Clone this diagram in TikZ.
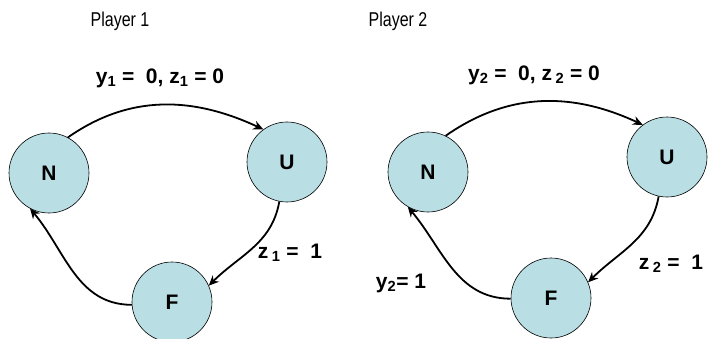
\documentclass[tikz,border=0pt]{standalone}
\usepackage{fontspec}
\setmainfont{Liberation Sans}
\newfontfamily\narrowsans[FakeStretch=0.8]{Liberation Sans}
\usetikzlibrary{arrows.meta}
\definecolor{statefill}{RGB}{185,223,228}

\begin{document}
\begin{tikzpicture}[x=1pt,y=1pt,
  state/.style={draw,circle,fill=statefill,line width=0.6pt,minimum size=80pt,inner sep=0pt,font=\fontsize{21}{23}\selectfont\bfseries},
  trans/.style={-{Stealth[length=10pt,width=9pt]},line width=1.8pt},
  lbl/.style={font=\fontsize{21}{23}\selectfont\bfseries,inner sep=0pt},
  title/.style={font=\fontsize{20}{22}\selectfont\narrowsans,inner sep=0pt}]
\useasboundingbox (0,0) rectangle (708,-339);
% player 1
\node[title] (p1) at (120,-21) {Player 1};
\node[state] (n1) at (49,-173) {N};
\node[state] (u1) at (287,-162) {U};
\node[state] (f1) at (172,-302) {F};
\draw[trans] (n1.62) to[out=35,in=155] (u1.126);
\draw[trans] (u1.259) to[out=-100,in=45] (f1.24);
\draw[trans] (f1.184) to[out=180,in=-50] (n1.242);
\node[lbl] (l1) at (160,-78) {y\textsubscript{1} =\ \ 0, z\textsubscript{1} = 0};
\node[lbl] (m1) at (290,-253) {z\,\textsubscript{1} =\ \ 1};
% player 2
\node[title] (p2) at (398,-21) {Player 2};
\node[state] (n2) at (428,-172) {N};
\node[state] (u2) at (667,-157) {U};
\node[state] (f2) at (551,-298) {F};
\draw[trans] (n2.64) to[out=35,in=155] (u2.127);
\draw[trans] (u2.258) to[out=-100,in=45] (f2.23);
\draw[trans] (f2.181) to[out=180,in=-50] (n2.240);
\node[lbl] (l2) at (534,-75) {y\textsubscript{2} =\ \ 0, z\,\textsubscript{2} = 0};
\node[lbl] (m2) at (671,-264) {z\,\textsubscript{2} =\ \ 1};
\node[lbl] (k2) at (401,-283) {y\textsubscript{2}= 1};
\end{tikzpicture}
\end{document}
